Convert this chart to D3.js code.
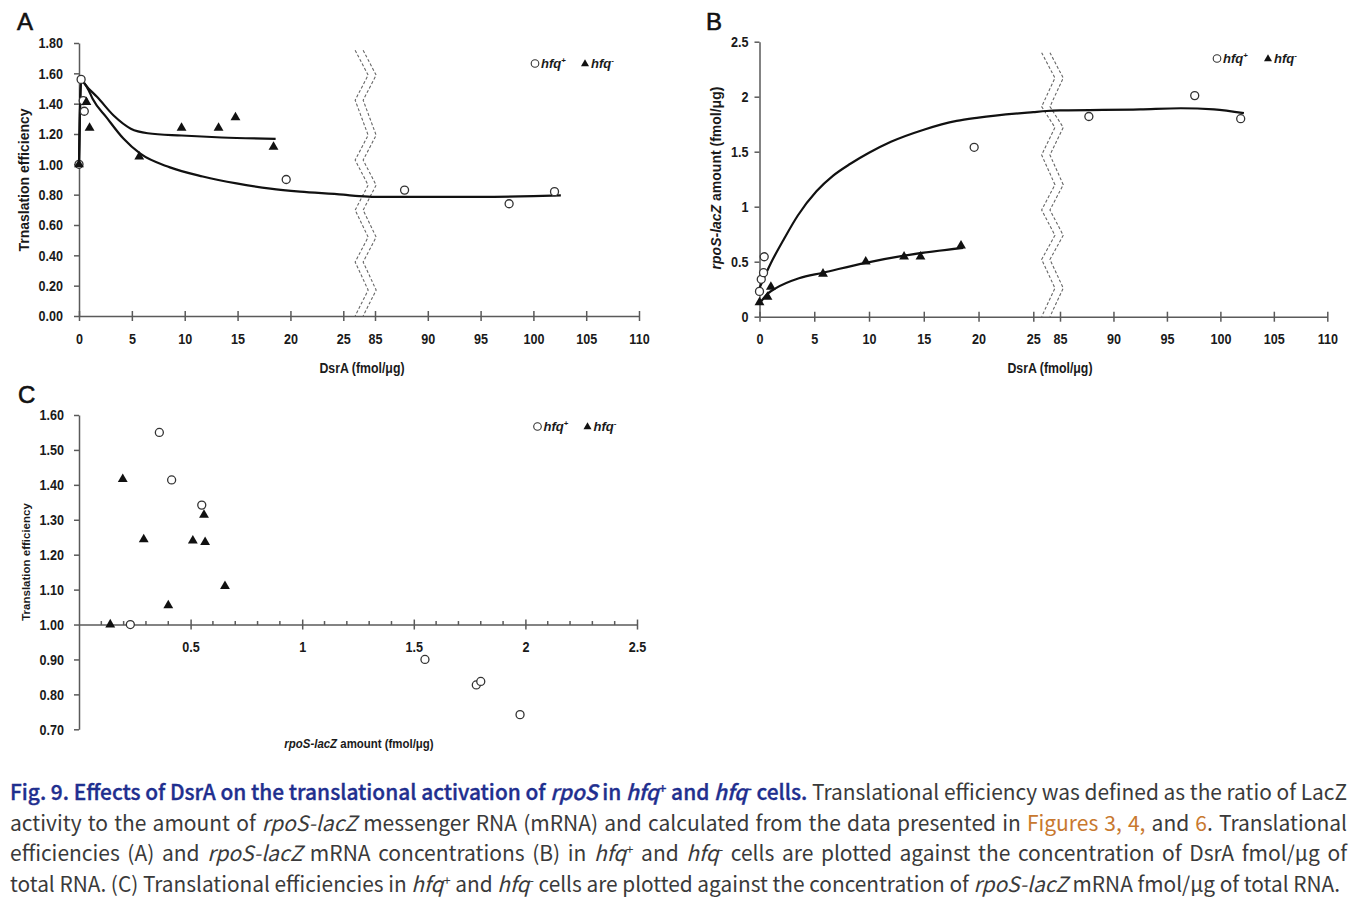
<!DOCTYPE html>
<html><head><meta charset="utf-8">
<script src="https://cdn.jsdelivr.net/npm/d3@7"></script>
<style>
body{margin:0;background:#fff;}
svg{display:block;}
.ax text{font-family:"Liberation Sans",Arial,sans-serif;font-weight:bold;font-size:15px;fill:#1a1a1a;transform-box:fill-box;transform:scaleX(0.84);}
.ax.yl text{transform-origin:right center;}
.ax.xl text{transform-origin:center center;}
.ax .domain,.ax line{stroke:#5a5a5a;stroke-width:1.5;}
.lbl{font-family:"Liberation Sans",Arial,sans-serif;font-weight:bold;fill:#1a1a1a;}
.hl{transform-box:fill-box;transform-origin:center center;transform:scaleX(0.88);}
.cap{font-family:"Noto Sans CJK KR","Noto Sans",sans-serif;font-size:21px;fill:#3a3a3a;}
</style></head><body>
<svg id="c" width="1367" height="899"></svg>
<script>
// ---------------- DATA ----------------
const panelLetters = ["A", "B", "C"];
const dsrATicks = [0, 5, 10, 15, 20, 25, 85, 90, 95, 100, 105, 110];
const teTicksA = [0, 0.2, 0.4, 0.6, 0.8, 1.0, 1.2, 1.4, 1.6, 1.8];
const mrnaTicksB = [0, 0.5, 1, 1.5, 2, 2.5];
const mrnaTicksC = [0.5, 1, 1.5, 2, 2.5];
const mrnaMinorTicksC = [0.1,0.2,0.3,0.4,0.6,0.7,0.8,0.9,1.1,1.2,1.3,1.4,1.6,1.7,1.8,1.9,2.1,2.2,2.3,2.4];
const teTicksC = [0.7, 0.8, 0.9, 1.0, 1.1, 1.2, 1.3, 1.4, 1.5, 1.6];

// Panel A : translation efficiency vs DsrA
const dsrAPlus  = [0, 0.2, 0.4, 0.5, 19.6, 87.8, 97.7, 102];
const teAPlus   = [1.00, 1.56, 1.42, 1.35, 0.90, 0.83, 0.74, 0.82];
const dsrAMinus = [0, 0.7, 1.0, 5.7, 9.7, 13.2, 14.8, 18.4];
const teAMinus  = [1.00, 1.41, 1.24, 1.05, 1.24, 1.24, 1.31, 1.115];
const fitAPlusX = [0, 0.2, 0.9, 1.3, 2.6, 4.2, 5.8, 8.6, 11.7, 14.9, 18.1, 20.9, 25, 55, 85, 95, 100, 102.6];
const fitAPlusY = [1.00, 1.55, 1.49, 1.43, 1.31, 1.17, 1.07, 0.98, 0.92, 0.874, 0.84, 0.82, 0.80, 0.79, 0.785, 0.785, 0.79, 0.795];
const fitAMinusX = [0, 0.2, 0.9, 1.7, 3.3, 4.9, 6.5, 9.7, 13.5, 18.6];
const fitAMinusY = [1.00, 1.55, 1.50, 1.445, 1.32, 1.235, 1.205, 1.19, 1.177, 1.168];

// Panel B : rpoS-lacZ amount vs DsrA
const dsrBPlus   = [0, 0.16, 0.37, 0.43, 19.6, 87.7, 97.6, 101.9];
const mrnaBPlus  = [0.23, 0.34, 0.40, 0.545, 1.54, 1.82, 2.01, 1.80];
const dsrBMinus  = [0, 0.73, 1.04, 5.8, 9.7, 13.2, 14.7, 18.4];
const mrnaBMinus = [0.13, 0.18, 0.27, 0.39, 0.50, 0.545, 0.545, 0.645];
const fitBPlusX = [0, 1, 2.2, 3.5, 5.2, 6.7, 8.3, 10, 12, 15, 18, 20, 25, 55, 85, 92.5, 96.3, 99.4, 102.2];
const fitBPlusY = [0.26, 0.48, 0.70, 0.92, 1.14, 1.28, 1.39, 1.49, 1.59, 1.70, 1.78, 1.81, 1.86, 1.87, 1.875, 1.885, 1.895, 1.885, 1.85];
const fitBMinusX = [0, 0.75, 1.5, 3.6, 5.8, 9.7, 13.2, 18.6];
const fitBMinusY = [0.12, 0.21, 0.26, 0.35, 0.40, 0.49, 0.555, 0.625];

// Panel C : translation efficiency vs rpoS-lacZ amount
const mrnaCPlus  = [0.23, 0.36, 0.415, 0.55, 1.55, 1.78, 1.80, 1.976];
const teCPlus    = [1.00, 1.55, 1.414, 1.342, 0.90, 0.827, 0.837, 0.742];
const mrnaCMinus = [0.14, 0.196, 0.29, 0.40, 0.51, 0.56, 0.565, 0.654];
const teCMinus   = [1.00, 1.416, 1.244, 1.055, 1.24, 1.314, 1.236, 1.11];

// axis-break zigzags: vertices (y in data units; side 0 = left, 1 = right)
const breakAY = [1.752, 1.588, 1.423, 1.192, 1.028, 0.863, 0.698, 0.520, 0.356, 0.171, 0];
const breakBY = [2.40, 2.17, 1.91, 1.72, 1.47, 1.20, 0.97, 0.74, 0.52, 0.26, 0];
const breakSide = [0, 1, 0, 1, 0, 1, 0, 1, 0, 1, 0];

// ---------------- DRAW ----------------
const svg = d3.select("#c");

const xA = d3.scaleLinear().domain([0, 25, 85, 110]).range([79, 343.3, 375, 639]);
const yA = d3.scaleLinear().domain([0, 1.8]).range([316, 43]);
const xB = d3.scaleLinear().domain([0, 25, 85, 110]).range([759.5, 1033.3, 1060, 1327.3]);
const yB = d3.scaleLinear().domain([0, 2.5]).range([316.7, 41.7]);
const xC = d3.scaleLinear().domain([0, 2.5]).range([79, 637]);
const yC = d3.scaleLinear().domain([0.7, 1.6]).range([729.3, 415]);

const fmtB = d => (d === 0 ? "0" : d3.format("~g")(d));

function yAxis(x, scale, ticks, fmt, pad) {
  return svg.append("g").attr("class", "ax yl").attr("transform", `translate(${x},0)`)
    .call(d3.axisLeft(scale).tickValues(ticks).tickFormat(fmt).tickSize(5).tickSizeOuter(0).tickPadding(pad));
}
function xAxis(y, scale, ticks, fmt) {
  const g = svg.append("g").attr("class", "ax xl").attr("transform", `translate(0,${y})`)
    .call(d3.axisBottom(scale).tickValues(ticks).tickFormat(fmt).tickSize(5).tickSizeOuter(0).tickPadding(12));
  g.selectAll(".tick line").attr("y1", -5).attr("y2", 5);
  return g;
}
function fitLine(xs, ys, sx, sy) {
  const line = d3.line().x(i => sx(xs[i])).y(i => sy(ys[i])).curve(d3.curveMonotoneX);
  svg.append("path").attr("d", line(d3.range(xs.length)))
    .attr("fill", "none").attr("stroke", "#111").attr("stroke-width", 2.2);
}
// break symbol: centred on the middle of the axis gap, drawn as two dashed zigzags
function breakMark(ys, sx, sy, gapLo, gapHi, left, right, off) {
  const cx = sx((gapLo + gapHi) / 2);
  [0, off].forEach(o => {
    const line = d3.line().x(i => cx + (breakSide[i] ? right : left) + o).y(i => sy(ys[i]));
    svg.append("path").attr("d", line(d3.range(ys.length)))
      .attr("fill", "none").attr("stroke", "#666").attr("stroke-width", 1.1)
      .attr("stroke-dasharray", "3,2");
  });
}
const tri = d3.symbol().type(d3.symbolTriangle).size(42);
function circles(xs, ys, sx, sy) {
  svg.append("g").selectAll("circle").data(d3.range(xs.length)).join("circle")
    .attr("cx", i => sx(xs[i])).attr("cy", i => sy(ys[i])).attr("r", 4)
    .attr("fill", "#fff").attr("stroke", "#333").attr("stroke-width", 1.3);
}
function triangles(xs, ys, sx, sy) {
  svg.append("g").selectAll("path").data(d3.range(xs.length)).join("path")
    .attr("d", tri).attr("transform", i => `translate(${sx(xs[i])},${sy(ys[i])})`)
    .attr("fill", "#111");
}
function legend(x, y, gap) {
  const g = svg.append("g").attr("transform", `translate(${x},${y})`);
  g.append("circle").attr("cx", 0).attr("cy", 0).attr("r", 3.8).attr("fill", "#fff").attr("stroke", "#333").attr("stroke-width", 1.1);
  const t1 = g.append("text").attr("class", "lbl").attr("x", 6).attr("y", 4.5).attr("font-size", 13);
  t1.append("tspan").attr("font-style", "italic").text("hfq");
  t1.append("tspan").attr("font-size", 8).attr("dy", -5).text("+");
  g.append("path").attr("d", d3.symbol().type(d3.symbolTriangle).size(28)).attr("transform", `translate(${gap},0.5)`).attr("fill", "#111");
  const t2 = g.append("text").attr("class", "lbl").attr("x", gap + 6).attr("y", 4.5).attr("font-size", 13);
  t2.append("tspan").attr("font-style", "italic").text("hfq");
  t2.append("tspan").attr("font-size", 8).attr("dy", -5).text("-");
}
function vLabel(x, y, size, parts) {
  const t = svg.append("text").attr("class", "lbl").attr("font-size", size)
    .attr("text-anchor", "middle").attr("transform", `translate(${x},${y}) rotate(-90)`);
  parts.forEach(p => t.append("tspan").attr("font-style", p[1] ? "italic" : "normal").text(p[0]));
}
function hLabel(x, y, size, parts) {
  const t = svg.append("text").attr("class", "lbl hl").attr("font-size", size)
    .attr("text-anchor", "middle").attr("x", x).attr("y", y);
  parts.forEach(p => t.append("tspan").attr("font-style", p[1] ? "italic" : "normal").text(p[0]));
}

// ---- Panel A
yAxis(79, yA, teTicksA, d3.format(".2f"), 11);
xAxis(316, xA, dsrATicks, d3.format("d"));
breakMark(breakAY, xA, yA, 25, 85, -4, 9, 8);
fitLine(fitAPlusX, fitAPlusY, xA, yA);
fitLine(fitAMinusX, fitAMinusY, xA, yA);
circles(dsrAPlus, teAPlus, xA, yA);
triangles(dsrAMinus, teAMinus, xA, yA);
legend(535, 63.5, 50);
vLabel(29, 180, 14, [["Trnaslation efficiency", false]]);
hLabel(362, 373, 14, [["DsrA (fmol/μg)", false]]);

// ---- Panel B
yAxis(759.5, yB, mrnaTicksB, fmtB, 6);
xAxis(316.7, xB, dsrATicks, d3.format("d"));
breakMark(breakBY, xB, yB, 25, 85, -5, 8.3, 8.3);
fitLine(fitBPlusX, fitBPlusY, xB, yB);
fitLine(fitBMinusX, fitBMinusY, xB, yB);
circles(dsrBPlus, mrnaBPlus, xB, yB);
triangles(dsrBMinus, mrnaBMinus, xB, yB);
legend(1217, 58.5, 51);
vLabel(721, 178, 14, [["rpoS-lacZ", true], [" amount (fmol/μg)", false]]);
hLabel(1050, 373, 14, [["DsrA (fmol/μg)", false]]);

// ---- Panel C
yAxis(79, yC, teTicksC, d3.format(".2f"), 10);
const gxc = svg.append("g").attr("class", "ax xl").attr("transform", `translate(0,${yC(1.0)})`)
  .call(d3.axisBottom(xC).tickValues(mrnaTicksC).tickFormat(d3.format("~g")).tickSize(5).tickSizeOuter(0).tickPadding(12));
gxc.selectAll(".tick line").attr("y1", -5).attr("y2", 5);
gxc.selectAll("line.minor").data(mrnaMinorTicksC).join("line").attr("class", "minor")
  .attr("x1", d => xC(d)).attr("x2", d => xC(d)).attr("y1", -3.5).attr("y2", 0.5).attr("stroke-width", 1.1);
circles(mrnaCPlus, teCPlus, xC, yC);
triangles(mrnaCMinus, teCMinus, xC, yC);
legend(537.5, 426.5, 50);
vLabel(30, 562, 11.5, [["Translation efficiency", false]]);
hLabel(359, 748, 13, [["rpoS-lacZ", true], [" amount (fmol/μg)", false]]);

// ---- Panel letters
const letterPos = [[17, 30], [706, 30], [18, 403]];
panelLetters.forEach((L, i) => {
  svg.append("text").attr("x", letterPos[i][0]).attr("y", letterPos[i][1])
    .attr("font-family", "'Liberation Sans',Arial,sans-serif").attr("font-size", 24)
    .attr("fill", "#111").attr("stroke", "#111").attr("stroke-width", 0.6).text(L);
});

// ---- Caption
const BLUE = "#1f2f8f", ORANGE = "#c8782e";
const capLines = [
  [["Fig. 9. Effects of DsrA on the translational activation of ", "b"], ["rpoS", "bi"], [" in ", "b"], ["hfq", "bi"], ["+", "bs"], [" and ", "b"], ["hfq", "bi"], ["-", "bs"], [" cells.", "b"], [" Translational efficiency was defined as the ratio of LacZ", ""]],
  [["activity to the amount of ", ""], ["rpoS-lacZ", "i"], [" messenger RNA (mRNA) and calculated from the data presented in ", ""], ["Figures 3, 4,", "o"], [" and ", ""], ["6", "o"], [". Translational", ""]],
  [["efficiencies (A) and ", ""], ["rpoS-lacZ", "i"], [" mRNA concentrations (B) in ", ""], ["hfq", "i"], ["+", "s"], [" and ", ""], ["hfq", "i"], ["-", "s"], [" cells are plotted against the concentration of DsrA fmol/μg of", ""]],
  [["total RNA. (C) Translational efficiencies in ", ""], ["hfq", "i"], ["+", "s"], [" and ", ""], ["hfq", "i"], ["-", "s"], [" cells are plotted against the concentration of ", ""], ["rpoS-lacZ", "i"], [" mRNA fmol/μg of total RNA.", ""]]
];
const capBase = [800, 830.7, 861.4, 892];
const capWidth = [1337, 1337, 1337, 1330];
capLines.forEach((parts, li) => {
  const t = svg.append("text").attr("class", "cap").attr("x", 10).attr("y", capBase[li]);
  let spaces = 0;
  parts.forEach(p => {
    const s = t.append("tspan").text(p[0]);
    const f = p[1];
    if (f.includes("b")) s.attr("fill", BLUE).attr("font-weight", 500).attr("stroke", BLUE).attr("stroke-width", 0.35);
    if (f.includes("o")) s.attr("fill", ORANGE);
    if (f.includes("i")) s.attr("font-style", "italic");
    if (f.includes("s")) s.attr("font-size", 13).attr("baseline-shift", "55%");
    spaces += (p[0].match(/ /g) || []).length;
  });
  const w = t.node().getComputedTextLength();
  const target = capWidth[li];
  if (w < target) t.attr("word-spacing", (target - w) / spaces);
  else t.attr("textLength", target).attr("lengthAdjust", "spacingAndGlyphs");
});
</script>
</body></html>
